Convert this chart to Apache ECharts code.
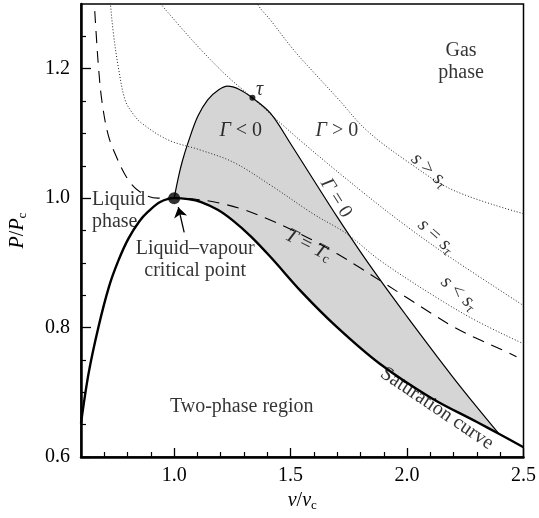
<!DOCTYPE html>
<html><head><meta charset="utf-8">
<script src="https://cdn.jsdelivr.net/npm/echarts@6/dist/echarts.min.js"></script>
<style>html,body{margin:0;padding:0;background:#fff}#c{width:539px;height:518px}</style>
</head><body><div id="c"></div><script>
// ---- data (v/vc, P/Pc) ----
const satLiquid = [[0.6,0.652],[0.633,0.73],[0.675,0.801],[0.72,0.863],[0.76,0.903],[0.803,0.937],[0.85,0.964],[0.888,0.979],[0.94,0.994],[1.0,1.0]];
const satVapour = [[1.0,1.0],[1.06,0.9985],[1.116,0.994],[1.187,0.982],[1.25,0.966],[1.329,0.941],[1.414,0.909],[1.55,0.854],[1.698,0.801],[1.883,0.744],[2.1,0.692],[2.3,0.654],[2.394,0.636],[2.5,0.615]];
const gammaZero = [[1.0,1.0],[1.02,1.035],[1.035,1.057],[1.059,1.085],[1.101,1.126],[1.144,1.152],[1.19,1.167],[1.229,1.173],[1.28,1.168],[1.336,1.155],[1.414,1.131],[1.5,1.084],[1.613,1.02],[1.7,0.971],[1.8,0.917],[1.9,0.866],[2.0,0.817],[2.1,0.769],[2.2,0.722],[2.3,0.677],[2.394,0.636]];
const isothermTcLeft = [[0.655,1.32],[0.658,1.296],[0.665,1.255],[0.675,1.203],[0.689,1.152],[0.715,1.1],[0.746,1.069],[0.803,1.028],[0.86,1.008],[0.93,1.0],[1.0,1.0]];
const isothermTcRight = [[1.0,1.0],[1.1,0.998],[1.2,0.992],[1.3,0.982],[1.4,0.968],[1.5,0.952],[1.6,0.934],[1.7,0.914],[1.8,0.892],[1.9,0.869],[2.0,0.846],[2.1,0.823],[2.2,0.801],[2.3,0.783],[2.4,0.767],[2.47,0.755]];
const isentropeBelow = [[0.72,1.33],[0.725,1.306],[0.739,1.255],[0.76,1.203],[0.789,1.152],[0.82,1.132],[0.86,1.116],[0.974,1.09],[1.116,1.074],[1.257,1.055],[1.414,1.02],[1.6,0.975],[1.741,0.945],[1.883,0.904],[2.124,0.847],[2.3,0.81],[2.5,0.775]];
const isentropeTau = [[0.9,1.33],[0.932,1.306],[1.002,1.275],[1.116,1.229],[1.229,1.188],[1.336,1.155],[1.542,1.089],[1.8,1.012],[2.0,0.956],[2.2,0.905],[2.5,0.834]];
const isentropeAbove = [[1.33,1.33],[1.358,1.3],[1.414,1.275],[1.513,1.229],[1.6,1.194],[1.7,1.155],[1.826,1.105],[2.0,1.057],[2.2,1.012],[2.5,0.976]];
const criticalPoint = [[1.0,1.0]];
const tauPoint = [[1.336,1.155]];
const arrowFromTo = [[1.043,0.947],[1.018,0.986]];
const xMajorTicks = [1.0,1.5,2.0,2.5];
const xMinorTicks = [0.7,0.8,0.9,1.1,1.2,1.3,1.4,1.6,1.7,1.8,1.9,2.1,2.2,2.3,2.4];
const yMajorTicks = [0.6,0.8,1.0,1.2];
const yMinorTicks = [0.65,0.7,0.75,0.85,0.9,0.95,1.05,1.1,1.15,1.25];
// annotations: [rich text, v, P, rotation, align]
const annotations = [
  ['Gas\nphase', 2.232, 1.21, 0, 'center'],
  ['{i|Γ} < 0', 1.286, 1.104, 0, 'center'],
  ['{i|Γ} > 0', 1.699, 1.104, 0, 'center'],
  ['{i|Γ} = 0', 1.695, 1.0, -58, 'center'],
  ['{i|T} = {i|T}{sub|c}', 1.576, 0.927, -27, 'center'],
  ['{i|s} > {i|s}{subi|τ}', 2.096, 1.043, -42, 'center'],
  ['{i|s} = {i|s}{subi|τ}', 2.125, 0.941, -42, 'center'],
  ['{i|s} < {i|s}{subi|τ}', 2.223, 0.853, -42, 'center'],
  ['Saturation curve', 2.128, 0.675, -34, 'center'],
  ['Two-phase region', 1.29, 0.678, 0, 'center'],
  ['Liquid\nphase', 0.647, 0.981, 0, 'left'],
  ['Liquid–vapour\ncritical point', 1.09, 0.905, 0, 'center'],
  ['{i|τ}', 1.367, 1.167, 0, 'center']
];

const FONT = '"Liberation Serif", "DejaVu Serif", serif';
const rich = {
  i: {fontFamily: FONT, fontStyle: 'italic', fontSize: 20, color: '#000'},
  sub: {fontFamily: FONT, fontSize: 13, color: '#000', padding: [9, 0, 0, 0]},
  subi: {fontFamily: FONT, fontStyle: 'italic', fontSize: 14, color: '#000', padding: [9, 0, 0, 0]}
};

const polygon = gammaZero.concat(satVapour.filter(p => p[0] <= 2.394).slice().reverse());

const chart = echarts.init(document.getElementById('c'), null, {renderer: 'canvas'});
const lineBase = {type: 'line', showSymbol: false, symbol: 'none', smooth: 0.35, animation: false, clip: true, silent: true};

chart.setOption({
  animation: false,
  backgroundColor: '#fff',
  grid: {left: 79, right: 14, top: 4, bottom: 61, show: true, borderColor: '#000', borderWidth: 1.5, backgroundColor: 'transparent'},
  xAxis: [{
    type: 'value', min: 0.6, max: 2.5, position: 'bottom', offset: 0,
    name: '{i|v}/{i|v}{sub|c}', nameLocation: 'middle', nameGap: 31,
    nameTextStyle: {fontFamily: FONT, fontSize: 20, color: '#000', rich: rich},
    axisLine: {show: true, onZero: false, lineStyle: {color: '#000', width: 2.5}},
    axisTick: {show: true, inside: true, length: 9, lineStyle: {color: '#000', width: 1.3}, customValues: xMajorTicks},
    axisLabel: {show: true, customValues: xMajorTicks, formatter: v => v.toFixed(1), fontFamily: FONT, fontSize: 20, color: '#000', margin: 9},
    splitLine: {show: false}
  }, {
    type: 'value', min: 0.6, max: 2.5, position: 'bottom', offset: 0, gridIndex: 0,
    axisLine: {show: false, onZero: false},
    axisTick: {show: true, inside: true, length: 5, lineStyle: {color: '#000', width: 1.2}, customValues: xMinorTicks},
    axisLabel: {show: false},
    splitLine: {show: false}
  }],
  yAxis: [{
    type: 'value', min: 0.6, max: 1.3, position: 'left', offset: 0,
    name: '{i|P}/{i|P}{sub|c}', nameLocation: 'middle', nameGap: 52, nameRotate: 90,
    nameTextStyle: {fontFamily: FONT, fontSize: 20, color: '#000', rich: rich},
    axisLine: {show: true, onZero: false, lineStyle: {color: '#000', width: 2.5}},
    axisTick: {show: true, inside: true, length: 10, lineStyle: {color: '#000', width: 1.3}, customValues: yMajorTicks},
    axisLabel: {show: true, customValues: yMajorTicks, formatter: v => v.toFixed(1), fontFamily: FONT, fontSize: 20, color: '#000', margin: 11},
    splitLine: {show: false}
  }, {
    type: 'value', min: 0.6, max: 1.3, position: 'left', offset: 0, gridIndex: 0,
    axisLine: {show: false, onZero: false},
    axisTick: {show: true, inside: true, length: 5, lineStyle: {color: '#000', width: 1.2}, customValues: yMinorTicks},
    axisLabel: {show: false},
    splitLine: {show: false}
  }],
  series: [
    {type: 'custom', silent: true, z: 1, clip: true, data: [[1, 1]],
      renderItem: (params, api) => ({type: 'polygon', shape: {points: polygon.map(p => api.coord(p)), smooth: 0.3}, style: {fill: '#d5d5d5'}})},
    Object.assign({}, lineBase, {data: satLiquid.concat(satVapour.slice(1)), z: 5, lineStyle: {color: '#000', width: 2.4}}),
    Object.assign({}, lineBase, {data: gammaZero, z: 4, lineStyle: {color: '#000', width: 1.2}}),
    Object.assign({}, lineBase, {data: isothermTcLeft.concat(isothermTcRight.slice(1)), z: 3, lineStyle: {color: '#000', width: 1.1, type: [12, 8]}}),
    Object.assign({}, lineBase, {data: isentropeBelow, z: 3, lineStyle: {color: '#222', width: 1, type: [1, 2]}}),
    Object.assign({}, lineBase, {data: isentropeTau, z: 3, lineStyle: {color: '#222', width: 1, type: [1, 2]}}),
    Object.assign({}, lineBase, {data: isentropeAbove, z: 3, lineStyle: {color: '#222', width: 1, type: [1, 2]}}),
    {type: 'scatter', data: criticalPoint, symbolSize: 12, itemStyle: {color: '#000'}, z: 8, silent: true},
    {type: 'scatter', data: tauPoint, symbolSize: 6, itemStyle: {color: '#000'}, z: 8, silent: true},
    {type: 'lines', coordinateSystem: 'cartesian2d', z: 8, silent: true, symbol: ['none', 'arrow'], symbolSize: [0, 10],
      lineStyle: {color: '#000', width: 1.3, opacity: 1}, data: [{coords: arrowFromTo}]},
    {type: 'scatter', symbolSize: 0, z: 9, silent: true,
      data: annotations.map(a => ({value: [a[1], a[2]], label: {show: true, position: 'inside', formatter: a[0], rotate: a[3], align: a[4]}})),
      label: {show: true, fontFamily: FONT, fontSize: 20, color: '#000', lineHeight: 22, rich: rich}}
  ]
});
</script></body></html>
